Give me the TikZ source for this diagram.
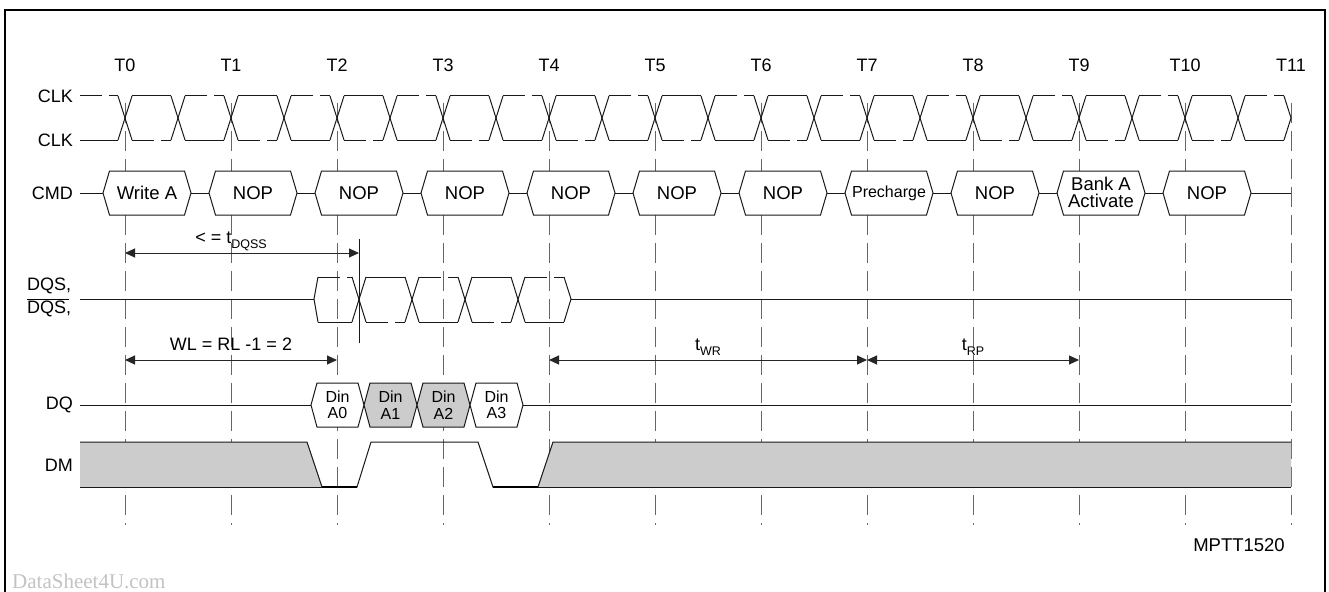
\documentclass[tikz,border=0pt]{standalone}
\usepackage{fontspec}
\setmainfont{Liberation Sans}
\newfontfamily\wmfont{Liberation Serif}
\usetikzlibrary{arrows.meta}
\definecolor{dmgray}{RGB}{204,204,204}
\definecolor{wmgray}{RGB}{195,195,195}
\newcommand{\tsub}[1]{\raisebox{-5pt}{\fontsize{12.5}{12.5}\selectfont #1}}
\begin{document}
\begin{tikzpicture}[x=1pt,y=-1pt,
  sig/.style={line width=1pt,draw=black!90},
  dsig/.style={sig,dash pattern=on 22pt off 7pt},
  vline/.style={line width=1pt,draw=black!60,dash pattern=on 20pt off 8pt},
  lbl/.style={font=\fontsize{18}{20}\selectfont,inner sep=0pt},
  tlbl/.style={font=\fontsize{18}{20}\selectfont,inner sep=0pt,anchor=base},
  cmdtxt/.style={font=\fontsize{18.5}{17}\selectfont,inner sep=0pt,align=center},
  dintxt/.style={font=\fontsize{16}{16.5}\selectfont,inner sep=0pt,align=center},
  hexbox/.style={sig,fill=white},
  dimarrow/.style={line width=1pt,draw=black!85,{Triangle[length=10pt,width=9pt]}-{Triangle[length=10pt,width=9pt]}},
]
\useasboundingbox (0,0) rectangle (1329,591);
\fill[white] (0,0) rectangle (1329,591);
\clip (0,0) rectangle (1329,591);

% frame
\draw[line width=1.2pt] (5,600) -- (5,10) -- (1325,10) -- (1325,600);

% vertical time lines and labels
\foreach \k in {0,...,11}{
  \draw[vline] ({125+106*\k},103) -- ({125+106*\k},525);
  \node[tlbl] (t\k) at ({125+106*\k},72) {T\k};
}

% CLK
\node[lbl,anchor=east] (clkA) at (73,96) {CLK};
\node[lbl,anchor=east] (clkB) at (73,140) {CLK};
\draw[dsig] (80,96) -- (118,96);
\draw[sig] (80,140) -- (118,140);
\foreach \j in {0,...,21}{
  \pgfmathsetmacro\cx{125+53*\j}
  \draw[sig] ({\cx-7},96) -- ({\cx+7},140);
  \draw[sig] ({\cx-7},140) -- ({\cx+7},96);
  \pgfmathsetmacro\xa{\cx+7}
  \pgfmathsetmacro\xb{\cx+46}
  \ifodd\j\relax
    \draw[dsig] (\xa,96) -- (\xb,96);
    \draw[sig] (\xa,140) -- (\xb,140);
  \else
    \draw[sig] (\xa,96) -- (\xb,96);
    \draw[dsig] (\xa,140) -- (\xb,140);
  \fi
}
\draw[sig] (1284,96) -- (1291,118) -- (1284,140);

% CMD
\node[lbl,anchor=east] (cmdl) at (73,193) {CMD};
\draw[sig] (80,193) -- (103,193);
\foreach \k in {0,...,10}{
  \pgfmathsetmacro\xl{125+106*\k-22}
  \pgfmathsetmacro\xr{125+106*\k+66}
  \draw[hexbox] (\xl,193) -- ({\xl+6.5},171) -- ({\xr-6.5},171) -- (\xr,193) -- ({\xr-6.5},215) -- ({\xl+6.5},215) -- cycle;
}
\foreach \k in {0,...,9}{
  \pgfmathsetmacro\xr{125+106*\k+66}
  \pgfmathsetmacro\xn{125+106*(\k+1)-22}
  \draw[sig] (\xr,193) -- (\xn,193);
}
\draw[sig] (1251,193) -- (1291,193);
\foreach \k/\txt in {0/Write A,1/NOP,2/NOP,3/NOP,4/NOP,5/NOP,6/NOP,8/NOP,10/NOP}{
  \node[cmdtxt] (c\k) at ({125+106*\k+22},193) {\txt};
}
\node[cmdtxt,font=\fontsize{16}{17}\selectfont] (c7) at ({125+106*7+22},193) {Precharge};
\node[cmdtxt] (c9) at ({125+106*9+22},192) {Bank A\\Activate};

% DQS
\node[lbl,anchor=base west] (dqs1) at (27,290) {DQS,};
\node[lbl,anchor=base west] (dqs2) at (27,313) {DQS,};
\draw[line width=1pt] (27,299) -- (69,299);
\draw[sig] (80,299) -- (314,299);
\draw[sig] (318,277) -- (314,299) -- (318,322);
\draw[dsig] (318,277) -- (352,277);
\draw[sig] (318,322) -- (352,322);
\foreach \i in {0,...,3}{
  \pgfmathsetmacro\cx{359+53*\i}
  \draw[sig] ({\cx-7},277) -- ({\cx+7},322);
  \draw[sig] ({\cx-7},322) -- ({\cx+7},277);
  \pgfmathsetmacro\xa{\cx+7}
  \pgfmathsetmacro\xb{\cx+46}
  \ifodd\i\relax
    \draw[dsig] (\xa,277) -- (\xb,277);
    \draw[sig] (\xa,322) -- (\xb,322);
  \else
    \draw[sig] (\xa,277) -- (\xb,277);
    \draw[dsig] (\xa,322) -- (\xb,322);
  \fi
}
\draw[sig] (564,277) -- (571,299) -- (564,322);
\draw[sig] (571,299) -- (1291,299);
\draw[sig] (359,239) -- (359,343);

% dimension arrows
\coordinate (a0) at (125,253); \coordinate (a1) at (359,253);
\draw[dimarrow] (a0) -- (a1);
\node[lbl,anchor=base] (tdqss) at (231,243) {< = t\tsub{DQSS}};
\coordinate (w0) at (125,360); \coordinate (w1) at (337,360);
\draw[dimarrow] (w0) -- (w1);
\node[lbl,anchor=base] (wl) at (231,350) {WL = RL -1 = 2};
\coordinate (r0) at (549,360); \coordinate (r1) at (867,360); \coordinate (r2) at (1079,360);
\draw[dimarrow] (r0) -- (r1);
\draw[dimarrow] (r1) -- (r2);
\node[lbl,anchor=base] (twr) at (708,350) {t\tsub{WR}};
\node[lbl,anchor=base] (trp) at (973,350) {t\tsub{RP}};

% DQ
\node[lbl,anchor=east] (dql) at (73,405) {DQ};
\draw[sig] (80,405) -- (311,405);
\foreach \i/\fc in {0/white,1/dmgray,2/dmgray,3/white}{
  \pgfmathsetmacro\xp{311+53*\i}
  \pgfmathsetmacro\xq{\xp+53}
  \draw[sig,fill=\fc] (\xp,405) -- ({\xp+6},383) -- ({\xq-6},383) -- (\xq,405) -- ({\xq-6},427) -- ({\xp+6},427) -- cycle;
  \node[dintxt] (d\i) at ({\xp+26.5},405) {Din\\A\i};
}
\draw[sig] (523,405) -- (1291,405);

% DM
\node[lbl,anchor=east] (dml) at (73,465) {DM};
\fill[fill=dmgray] (80,442) -- (307,442) -- (322,487) -- (80,487) -- cycle;
\fill[fill=dmgray] (538,487) -- (553,442) -- (1291,442) -- (1291,487) -- cycle;
\draw[sig] (80,442) -- (307,442) -- (322,487) -- (357,487) -- (371,442) -- (478,442) -- (493,487) -- (538,487) -- (553,442) -- (1291,442);
\draw[sig] (80,487) -- (322,487);
\draw[sig] (538,487) -- (1291,487);
\draw[line width=1.8pt] (322,487) -- (357,487);
\draw[line width=1.8pt] (493,487) -- (538,487);

% figure id and watermark
\node[font=\fontsize{18.5}{20}\selectfont,inner sep=0pt,anchor=base] (figid) at (1239,551) {MPTT1520};
\node[font=\wmfont\fontsize{21}{22}\selectfont,text=wmgray,inner sep=0pt,anchor=base west] (wm) at (12,588) {DataSheet4U.com};
\end{tikzpicture}
\end{document}
